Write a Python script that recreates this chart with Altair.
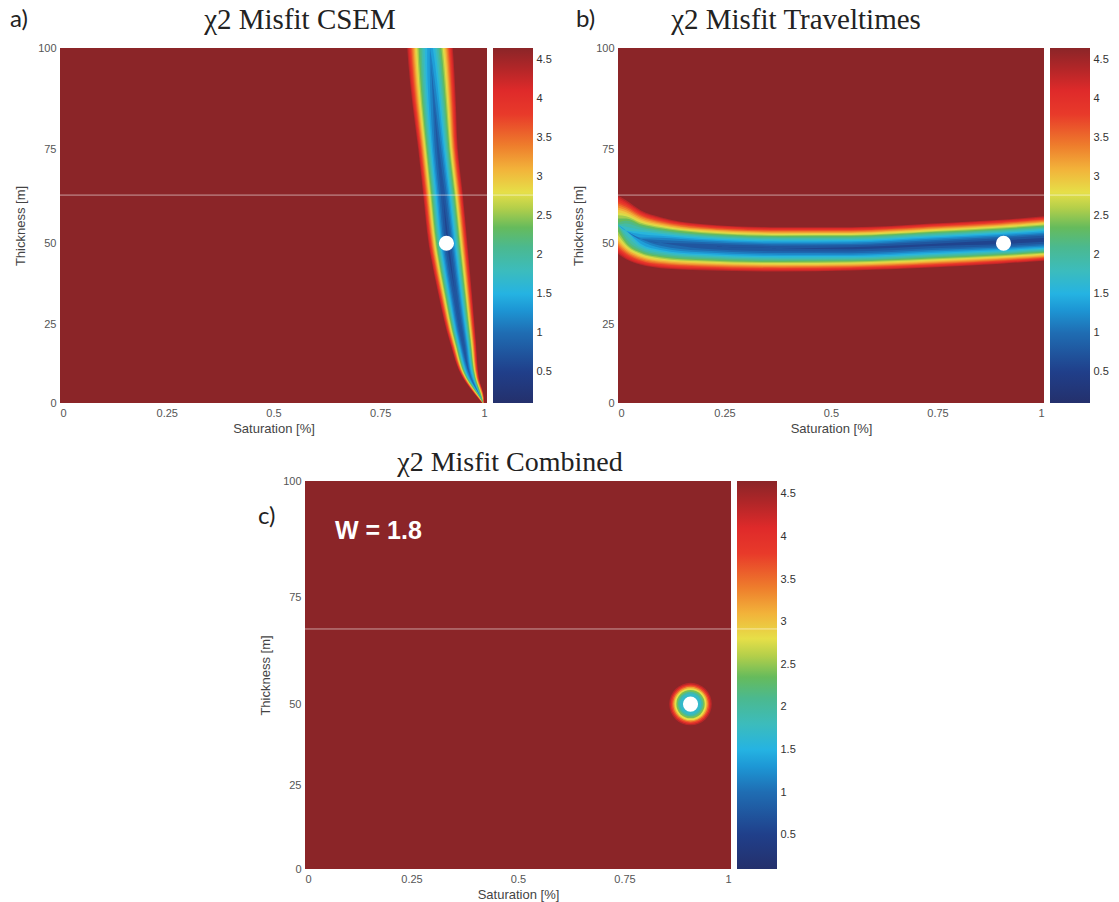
import altair as alt
import numpy as np
import pandas as pd

# ---------------- values ----------------
x_tick_values = [0, 0.25, 0.5, 0.75, 1]
y_tick_values = [0, 25, 50, 75, 100]
cb_tick_values = [0.5, 1, 1.5, 2, 2.5, 3, 3.5, 4, 4.5]
cb_min, cb_max = 0.1, 4.65

# colour map (misfit value -> colour)
cmap_values = [0.1, 0.5, 1.0, 1.3, 1.5, 1.8, 2.1, 2.35, 2.6, 2.8, 3.1, 3.4, 3.8, 4.1, 4.4, 4.65]
cmap_colors = ["#24306c", "#203f8a", "#1f6db3", "#1d97d5", "#25b3e2", "#3cbcbc", "#4bb98f",
               "#66bb5c", "#b4cf4a", "#e6df48", "#f2b23a", "#ee7d2c", "#e83a2a", "#df2a2a",
               "#b02628", "#8b2528"]

# true model (white dots)
true_saturation = [0.905]
true_thickness = [50]

# panel a: misfit valley (CSEM) - rows along thickness
a_thickness = [100, 96.3, 86.4, 75.3, 62.8, 49.5, 34.8, 19.2, 8.0, 1.6, 0]
a_center = [0.8665, 0.869, 0.876, 0.885, 0.897, 0.909, 0.925, 0.944, 0.9625, 0.986, 0.991]
a_halfwidth = [0.0539, 0.0539, 0.0515, 0.0468, 0.0468, 0.0457, 0.0398, 0.0304, 0.0187, 0.007, 0.0023]
a_minimum = [1.3, 1.2, 1.0, 0.8, 0.7, 0.6, 0.65, 0.7, 1.0, 2.0, 3.5]

# panel b: misfit valley (traveltimes) - columns along saturation
b_saturation = [0.0, 0.019, 0.054, 0.10, 0.195, 0.383, 0.547, 0.735, 0.90, 1.0]
b_upper = [62.8, 61.5, 58.8, 57.0, 55.2, 54.3, 54.3, 55.3, 56.3, 57.2]
b_center = [54.9, 53.3, 51.1, 50.1, 49.2, 48.5, 48.5, 49.5, 50.3, 50.9]
b_lower = [46.6, 45.0, 43.3, 42.3, 41.7, 41.3, 41.6, 42.5, 43.7, 44.6]
b_minimum = [2.2, 1.7, 1.2, 0.9, 0.7, 0.65, 0.6, 0.6, 0.55, 0.55]

# panel c: rings around the combined minimum
c_ring_value = [4.35, 4.0, 3.6, 3.2, 2.8, 2.4, 2.0, 1.7]
c_ring_radius = [24, 22.5, 21, 19.5, 18, 16, 14, 12]

# valley cross-section shape (misfit rises ~ distance^1.45)
profile_exponent = 1.45

# scan line artefact
scanline_thickness_ab = [62.8]
scanline_thickness_c = [67.6]
scanline_cb_ab = [2.765]
scanline_cb_c = [2.915]

titles = ["\u03c72 Misfit CSEM", "\u03c72 Misfit Traveltimes", "\u03c72 Misfit Combined"]
panel_letters = ["a)", "b)", "c)"]
weight_text = ["W = 1.8"]

# contour levels used to draw the smooth valleys
levels = [round(4.45 - 0.2 * k, 2) for k in range(21)]

# ---------------- helpers ----------------
SANS = "Liberation Sans"
SERIF = "Liberation Serif"

cscale = alt.Scale(domain=cmap_values, range=cmap_colors, interpolate="rgb", clamp=True)
xscale = alt.Scale(domain=[0, 1], nice=False, zero=False)


def yscale(H, fr):
    return alt.Scale(domain=y_tick_values, range=[H, H * fr[0], H * fr[1], H * fr[2], 0],
                     nice=False, zero=False)


x_axis = alt.Axis(values=x_tick_values, format=".2~f", title="Saturation [%]", ticks=False,
                  domain=False, grid=False, labelFont=SANS, labelFontSize=11, labelColor="#555",
                  labelPadding=4, titleFont=SANS, titleFontSize=13, titleFontWeight="normal",
                  titleColor="#444", titlePadding=4)
y_axis = alt.Axis(values=y_tick_values, format="d", title="Thickness [m]", ticks=False,
                  domain=False, grid=False, labelFont=SANS, labelFontSize=11, labelColor="#555",
                  labelPadding=4, titleFont=SANS, titleFontSize=13, titleFontWeight="normal",
                  titleColor="#444", titlePadding=10)


def width_factor(L, m):
    return (max(L - m, 0.0) / (4.5 - m)) ** (1.0 / profile_exponent)


def background(ys):
    df = pd.DataFrame({"s0": [0], "s1": [1], "t0": [0], "t1": [100], "v": [cb_max]})
    return alt.Chart(df).mark_rect().encode(
        x=alt.X("s0:Q", scale=xscale, axis=x_axis), x2="s1:Q",
        y=alt.Y("t0:Q", scale=ys, axis=y_axis), y2="t1:Q",
        color=alt.Color("v:Q", scale=cscale, legend=None))


def text_layer(label, x, y, font, size, color="#222", weight="normal", align="left"):
    df = pd.DataFrame({"label": [label]})
    return alt.Chart(df).mark_text(font=font, fontSize=size, color=color, fontWeight=weight,
                                   align=align, baseline="alphabetic").encode(
        x=alt.value(x), y=alt.value(y), text="label:N")


def anchor(x, y):
    # invisible, fixes the extent of the figure
    return alt.Chart(pd.DataFrame({"z": [0]})).mark_rule(opacity=0).encode(
        x=alt.value(x), x2=alt.value(x + 1), y=alt.value(y), y2=alt.value(y + 1))


def dot_layer(ys):
    df = pd.DataFrame({"s": true_saturation, "t": true_thickness})
    return alt.Chart(df).mark_circle(size=230, color="white", opacity=1).encode(
        x=alt.X("s:Q", scale=xscale, axis=x_axis), y=alt.Y("t:Q", scale=ys, axis=y_axis))


def scanline(ys, t):
    df = pd.DataFrame({"t": t})
    return alt.Chart(df).mark_rule(color="white", opacity=0.55, strokeWidth=1).encode(
        y=alt.Y("t:Q", scale=ys, axis=y_axis))


cb_offsets = [(v - cb_min) / (cb_max - cb_min) for v in cmap_values]
cb_gradient = alt.Gradient(
    gradient="linear", x1=0, x2=0, y1=1, y2=0,
    stops=[alt.GradientStop(offset=o, color=c) for o, c in zip(cb_offsets, cmap_colors)])
cb_df = pd.DataFrame({"v0": [cb_min], "v1": [cb_max]})


def colorbar(H, line_v):
    sc = alt.Scale(domain=[cb_min, cb_max], nice=False, zero=False)
    cb_axis = alt.Axis(orient="right", values=cb_tick_values, format=".1~f", ticks=False,
                       domain=False, grid=False, title=None, labelFont=SANS, labelFontSize=11,
                       labelColor="#333", labelPadding=3)
    bar = alt.Chart(cb_df).mark_rect(fill=cb_gradient).encode(
        y=alt.Y("v0:Q", scale=sc, axis=cb_axis), y2="v1:Q")
    line = alt.Chart(pd.DataFrame({"v": line_v})).mark_rule(
        color="white", opacity=0.55, strokeWidth=1).encode(y=alt.Y("v:Q", scale=sc, axis=cb_axis))
    return alt.layer(bar, line).properties(width=40, height=H)


def spacer(w, h, with_anchor=False):
    if with_anchor:
        return anchor(0, 0).properties(width=w, height=h)
    return alt.Chart(pd.DataFrame({"z": [0]})).mark_rule(opacity=0).encode(
        x=alt.value(w / 2), x2=alt.value(w / 2 + 1), y=alt.value(h / 2), y2=alt.value(h / 2 + 1)
    ).properties(width=w, height=h)


# ---------------- panel a ----------------
WA, HAB = 427, 355
ys_ab = yscale(HAB, [0.78, 0.55, 0.285])

rows = []
for k, L in enumerate(levels):
    for t, c, hw, m in zip(a_thickness, a_center, a_halfwidth, a_minimum):
        g = width_factor(L, m)
        rows.append(dict(k=k, v=L - 0.1, t=t, lft=c - hw * g, rgt=c + hw * g))
df_a = pd.DataFrame(rows)

bands_a = alt.Chart(df_a).mark_area(orient="horizontal", interpolate="monotone").encode(
    y=alt.Y("t:Q", scale=ys_ab, axis=y_axis),
    x=alt.X("lft:Q", scale=xscale, axis=x_axis), x2="rgt:Q",
    detail="k:O",
    color=alt.Color("v:Q", scale=cscale, legend=None))

panel_a = alt.layer(
    background(ys_ab), bands_a,
    scanline(ys_ab, scanline_thickness_ab),
    dot_layer(ys_ab),
    text_layer(panel_letters[0], -50, -21, "Lato", 24),
    text_layer(titles[0], 240, -19, SERIF, 29, align="center"),
    anchor(-60, -48), anchor(-20, HAB + 40),
).properties(width=WA, height=HAB)

# ---------------- panel b ----------------
WB = 426
rows = []
for k, L in enumerate(levels):
    for s, up, c, lo, m in zip(b_saturation, b_upper, b_center, b_lower, b_minimum):
        g = width_factor(L, m)
        rows.append(dict(k=k, v=L - 0.1, s=s, hi=c + (up - c) * g, lo=c - (c - lo) * g))
df_b = pd.DataFrame(rows)

bands_b = alt.Chart(df_b).mark_area(interpolate="monotone").encode(
    x=alt.X("s:Q", scale=xscale, axis=x_axis),
    y=alt.Y("lo:Q", scale=ys_ab, axis=y_axis), y2="hi:Q",
    detail="k:O",
    color=alt.Color("v:Q", scale=cscale, legend=None))

panel_b = alt.layer(
    background(ys_ab), bands_b,
    scanline(ys_ab, scanline_thickness_ab),
    dot_layer(ys_ab),
    text_layer(panel_letters[1], -42, -21, "Lato", 24),
    text_layer(titles[1], 178, -19, SERIF, 29, align="center"),
).properties(width=WB, height=HAB)

# ---------------- panel c ----------------
WC, HC = 426, 388
ys_c = yscale(HC, [0.786, 0.575, 0.30])
df_c = pd.DataFrame({"s": true_saturation * len(c_ring_value),
                     "t": true_thickness * len(c_ring_value),
                     "v": c_ring_value,
                     "r": c_ring_radius})
df_c["area"] = np.pi * df_c["r"] ** 2
rings = alt.Chart(df_c).mark_circle(opacity=1).encode(
    x=alt.X("s:Q", scale=xscale, axis=x_axis), y=alt.Y("t:Q", scale=ys_c, axis=y_axis),
    size=alt.Size("area:Q", scale=None, legend=None),
    color=alt.Color("v:Q", scale=cscale, legend=None))
panel_c = alt.layer(
    background(ys_c), rings, scanline(ys_c, scanline_thickness_c), dot_layer(ys_c),
    text_layer(panel_letters[2], -47, 43, "Lato", 24),
    text_layer(titles[2], 205, -10, SERIF, 28, align="center"),
    text_layer(weight_text[0], 30, 58, SANS, 25, color="white", weight="bold"),
    anchor(0, -35),
).properties(width=WC, height=HC)

row1 = alt.hconcat(panel_a, colorbar(HAB, scanline_cb_ab), spacer(73, HAB), panel_b,
                   colorbar(HAB, scanline_cb_ab), spacing=6, bounds="flush")
row2 = alt.hconcat(spacer(239, HC, with_anchor=True), panel_c, colorbar(HC, scanline_cb_c),
                   spacing=6, bounds="flush")

chart = alt.vconcat(row1, row2, spacing=2).properties(
    padding={"left": 0, "top": 0, "right": 5, "bottom": 5}, background="white"
).configure_view(strokeWidth=0)

chart.save("out.html", embed_options={"renderer": "svg", "actions": False})
